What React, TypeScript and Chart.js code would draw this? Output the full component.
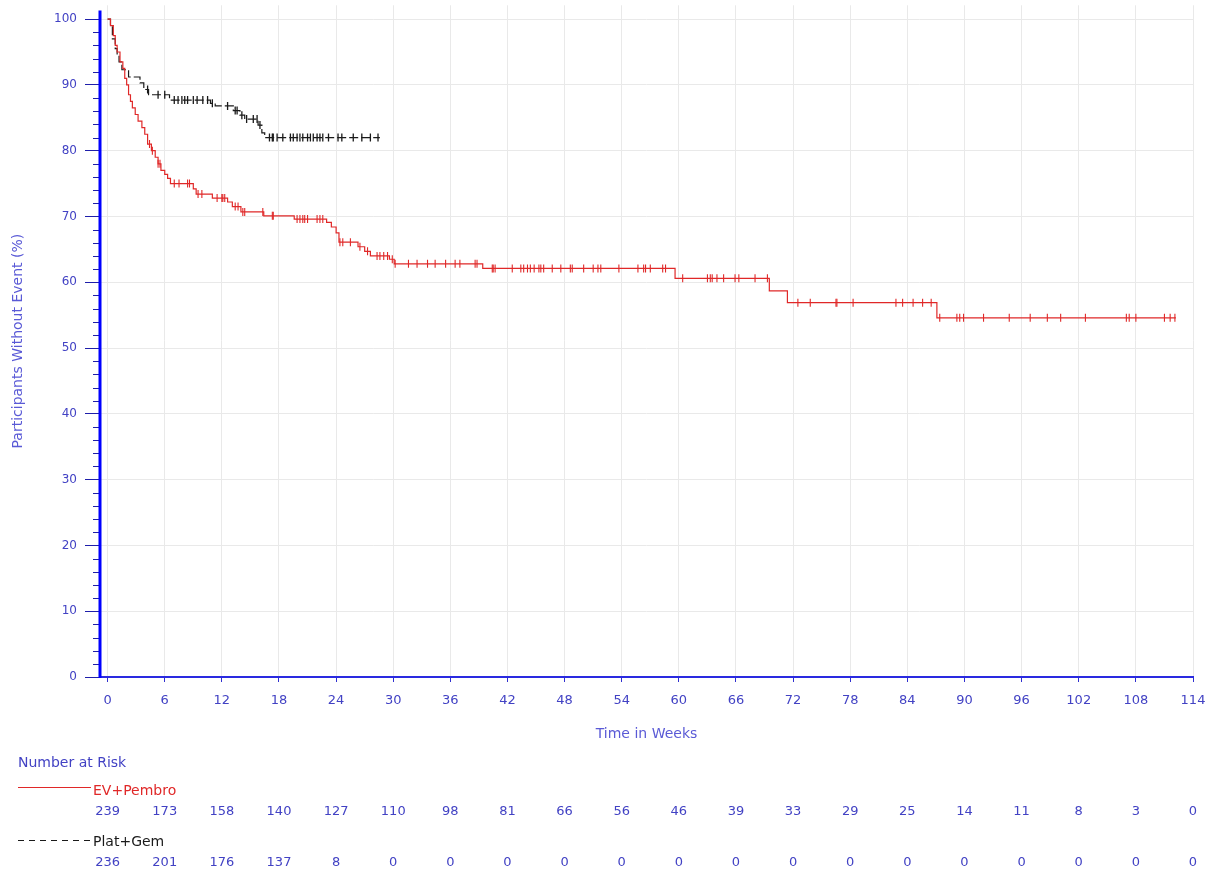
import React, { useEffect, useRef } from 'react';
import { Chart, registerables } from 'chart.js';

Chart.register(...registerables);

// ---- Data ----
const xTicks = [0, 6, 12, 18, 24, 30, 36, 42, 48, 54, 60, 66, 72, 78, 84, 90, 96, 102, 108, 114];

const evTimes = [0, 0.3, 0.6, 0.8, 1.0, 1.3, 1.6, 1.8, 2.0, 2.2, 2.4, 2.6, 2.9, 3.2, 3.6, 3.9, 4.2, 4.6, 5.0, 5.3, 5.6, 6.0, 6.3, 6.6, 9.0, 9.3, 11.0, 12.6, 13.1, 14.0, 16.4, 19.6, 23.0, 23.5, 24.0, 24.3, 26.3, 27.0, 27.6, 29.6, 30.1, 39.4, 59.6, 69.5, 71.4, 87.1, 112.2];
const evSurv = [100, 99, 97.5, 96, 95, 93.5, 92.5, 91, 90, 88.5, 87.5, 86.5, 85.5, 84.5, 83.5, 82.5, 81, 80, 79, 78, 77, 76.4, 75.8, 75.0, 74.2, 73.4, 72.8, 72.2, 71.5, 70.7, 70.1, 69.6, 69.1, 68.4, 67.5, 66.1, 65.4, 64.7, 64.0, 63.5, 62.8, 62.1, 60.6, 58.7, 56.9, 54.6, 54.6];
const evCensor = [4.4, 4.7, 5.3, 5.5, 7.0, 7.5, 8.4, 8.6, 9.5, 9.9, 11.5, 12.0, 12.1, 12.3, 13.4, 13.7, 14.2, 14.4, 16.3, 17.3, 17.4, 19.9, 20.2, 20.5, 20.7, 21.0, 22.0, 22.3, 22.6, 24.4, 24.7, 25.5, 26.5, 27.3, 28.3, 28.6, 29.0, 29.4, 29.9, 30.2, 31.6, 32.5, 33.6, 34.4, 35.5, 36.5, 37.0, 38.6, 38.8, 40.4, 40.5, 40.7, 42.5, 43.4, 43.7, 44.1, 44.4, 44.8, 45.3, 45.5, 45.8, 46.7, 47.6, 48.6, 48.8, 50.0, 51.0, 51.5, 51.8, 53.7, 55.7, 56.3, 56.5, 57.0, 58.3, 58.6, 60.4, 63.0, 63.3, 63.5, 64.0, 64.7, 65.9, 66.3, 68.0, 69.3, 72.5, 73.8, 76.5, 76.6, 78.3, 82.8, 83.5, 84.6, 85.6, 86.5, 87.4, 89.2, 89.5, 89.9, 92.0, 94.7, 96.9, 98.7, 100.1, 102.7, 107.0, 107.3, 108.0, 111.0, 111.6, 112.1];

const pgTimes = [0, 0.3, 0.5, 0.8, 1.0, 1.2, 1.5, 2.2, 3.4, 3.8, 4.3, 6.5, 10.8, 11.3, 13.2, 13.9, 14.4, 15.8, 16.2, 16.5, 28.6];
const pgSurv = [100, 99, 97, 95.5, 94.5, 93.5, 92.3, 91.2, 90.3, 89.3, 88.5, 87.7, 87.2, 86.8, 86.1, 85.4, 84.8, 83.9, 82.7, 82.0, 82.0];
const pgCensor = [4.2, 5.3, 6.0, 7.0, 7.4, 7.8, 8.1, 8.4, 9.0, 9.4, 10.0, 10.5, 11.0, 12.6, 13.4, 13.6, 14.1, 14.6, 15.3, 15.7, 16.0, 17.0, 17.3, 17.4, 17.8, 18.4, 19.2, 19.5, 19.9, 20.2, 20.5, 21.0, 21.3, 21.6, 22.0, 22.3, 22.6, 23.2, 24.2, 24.6, 25.8, 26.7, 27.6, 28.4];

const riskEV = [239, 173, 158, 140, 127, 110, 98, 81, 66, 56, 46, 39, 33, 29, 25, 14, 11, 8, 3, 0];
const riskPG = [236, 201, 176, 137, 8, 0, 0, 0, 0, 0, 0, 0, 0, 0, 0, 0, 0, 0, 0, 0];

const seriesNames = ['EV+Pembro', 'Plat+Gem'];

// ---- Styles ----
const FONT = '"DejaVu Sans", "Liberation Sans", sans-serif';
const RED = '#e02828';
const BLACK = '#1a1a1a';
const BLUE_TEXT = '#4242c4';
const BLUE_TITLE = '#5a5ad6';

function stepAt(times: number[], surv: number[], t: number) {
  let v = surv[0];
  for (let i = 0; i < times.length; i++) {
    if (times[i] <= t) v = surv[i];
    else break;
  }
  return v;
}

const toPts = (times: number[], surv: number[]) => times.map((t, i) => ({ x: t, y: surv[i] }));
const censorPts = (c: number[], times: number[], surv: number[]) => c.map((t) => ({ x: t, y: stepAt(times, surv, t) }));

const overlayPlugin = {
  id: 'overlay',
  afterDraw(chart: any) {
    const { ctx, chartArea, scales } = chart;
    const x = scales.x;
    const y = scales.y;
    ctx.save();
    // minor y ticks
    ctx.strokeStyle = '#1e1eaa';
    ctx.lineWidth = 1;
    for (let v = 0; v <= 100; v += 2) {
      if (v % 10 === 0) continue;
      const py = Math.round(y.getPixelForValue(v)) + 0.5;
      ctx.beginPath();
      ctx.moveTo(chartArea.left - 7, py);
      ctx.lineTo(chartArea.left, py);
      ctx.stroke();
    }
    // y axis line
    ctx.strokeStyle = '#0000ff';
    ctx.lineWidth = 3;
    ctx.beginPath();
    ctx.moveTo(chartArea.left, y.getPixelForValue(101.3));
    ctx.lineTo(chartArea.left, chartArea.bottom + 1);
    ctx.stroke();

    // Number at risk table
    ctx.textBaseline = 'middle';
    ctx.textAlign = 'left';
    ctx.font = `14px ${FONT}`;
    ctx.fillStyle = BLUE_TEXT;
    ctx.fillText('Number at Risk', 18, 763);

    ctx.strokeStyle = RED;
    ctx.lineWidth = 1;
    ctx.beginPath();
    ctx.moveTo(18, 787.5);
    ctx.lineTo(91, 787.5);
    ctx.stroke();
    ctx.fillStyle = RED;
    ctx.fillText(seriesNames[0], 93, 791);

    ctx.strokeStyle = BLACK;
    ctx.setLineDash([6, 5]);
    ctx.beginPath();
    ctx.moveTo(18, 840.5);
    ctx.lineTo(90, 840.5);
    ctx.stroke();
    ctx.setLineDash([]);
    ctx.fillStyle = BLACK;
    ctx.fillText(seriesNames[1], 93, 842);

    ctx.textAlign = 'center';
    ctx.font = `13px ${FONT}`;
    ctx.fillStyle = BLUE_TEXT;
    xTicks.forEach((t, i) => {
      const px = x.getPixelForValue(t);
      ctx.fillText(String(riskEV[i]), px, 812);
      ctx.fillText(String(riskPG[i]), px, 863);
    });
    ctx.restore();
  },
};

export default function App() {
  const ref = useRef<HTMLCanvasElement | null>(null);

  useEffect(() => {
    if (!ref.current) return;
    const chart = new Chart(ref.current, {
      type: 'line',
      data: {
        datasets: [
          {
            label: seriesNames[0],
            data: toPts(evTimes, evSurv),
            borderColor: RED,
            borderWidth: 1.2,
            stepped: true,
            pointRadius: 0,
            fill: false,
          },
          {
            label: seriesNames[1],
            data: toPts(pgTimes, pgSurv),
            borderColor: BLACK,
            borderWidth: 1.2,
            borderDash: [9, 3],
            stepped: true,
            pointRadius: 0,
            fill: false,
          },
          {
            label: 'EV censored',
            data: censorPts(evCensor, evTimes, evSurv),
            showLine: false,
            pointStyle: 'line',
            rotation: 90,
            pointRadius: 4,
            pointBorderWidth: 1.1,
            borderColor: RED,
            pointBorderColor: RED,
          },
          {
            label: 'PG censored',
            data: censorPts(pgCensor, pgTimes, pgSurv),
            showLine: false,
            pointStyle: 'line',
            rotation: 90,
            pointRadius: 4,
            pointBorderWidth: 1.3,
            borderColor: BLACK,
            pointBorderColor: BLACK,
          },
        ],
      },
      options: {
        responsive: false,
        animation: false,
        layout: { padding: { left: 0, top: 0, right: 25, bottom: 127 } },
        plugins: { legend: { display: false }, tooltip: { enabled: false } },
        scales: {
          x: {
            type: 'linear',
            min: -0.8,
            max: 114,
            afterFit: (s: any) => {
              s.height = 70;
              s.paddingLeft = 0;
              s.paddingRight = 0;
            },
            ticks: {
              stepSize: 6,
              includeBounds: false,
              autoSkip: false,
              maxRotation: 0,
              padding: 11,
              color: BLUE_TEXT,
              font: { family: FONT, size: 13 },
            },
            grid: {
              color: '#e9e9e9',
              lineWidth: 1,
              drawTicks: true,
              tickLength: 5,
              tickColor: '#3030d0',
            },
            border: { display: true, color: '#2a2ae0', width: 2 },
            title: {
              display: true,
              text: 'Time in Weeks',
              color: BLUE_TITLE,
              font: { family: FONT, size: 14 },
              padding: { top: 0, bottom: 4 },
            },
          },
          y: {
            type: 'linear',
            min: 0,
            max: 102.1,
            afterFit: (s: any) => {
              s.width = 100;
              s.paddingTop = 0;
              s.paddingBottom = 0;
            },
            ticks: {
              stepSize: 10,
              includeBounds: false,
              padding: 8,
              color: BLUE_TEXT,
              font: { family: FONT, size: 12 },
            },
            grid: {
              color: '#e9e9e9',
              lineWidth: 1,
              drawTicks: true,
              tickLength: 15,
              tickColor: '#1e1eaa',
            },
            border: { display: false },
            title: {
              display: true,
              text: 'Participants Without Event (%)',
              color: BLUE_TITLE,
              font: { family: FONT, size: 14 },
              padding: { top: 10, bottom: 0 },
            },
          },
        },
      },
      plugins: [overlayPlugin],
    } as any);
    return () => chart.destroy();
  }, []);

  return (
    <div style={{ position: 'absolute', left: 0, top: 0, width: 1218, height: 874, background: '#fff' }}>
      <canvas ref={ref} width={1218} height={874} style={{ display: 'block' }} />
    </div>
  );
}
